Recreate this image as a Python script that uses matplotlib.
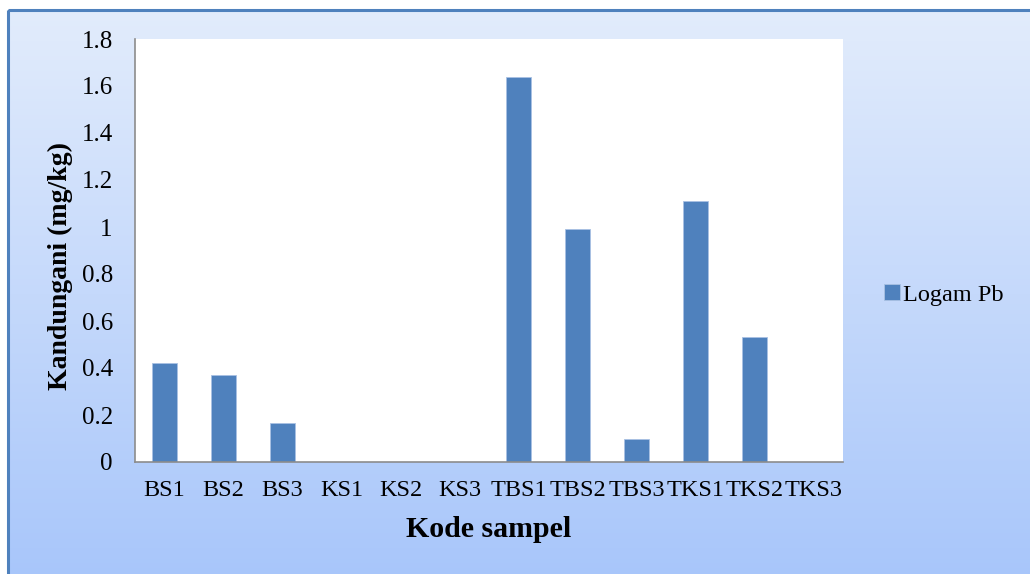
import matplotlib.pyplot as plt
import numpy as np
from matplotlib.colors import LinearSegmentedColormap
from matplotlib.patches import Rectangle

plt.rcParams['font.family'] = ['Liberation Serif', 'DejaVu Serif']

kode = ["BS1", "BS2", "BS3", "KS1", "KS2", "KS3",
        "TBS1", "TBS2", "TBS3", "TKS1", "TKS2", "TKS3"]
logam_pb = [0.42, 0.37, 0.165, 0, 0, 0,
            1.64, 0.99, 0.098, 1.11, 0.53, 0]

W, H = 1030, 574
fig = plt.figure(figsize=(W / 100, H / 100), dpi=100)
fig.patch.set_facecolor("white")

# gradient background of the chart area
bg = fig.add_axes([0, 0, 1, 1], zorder=0)
bg.axis("off")
cmap = LinearSegmentedColormap.from_list("bg", ["#E2ECFC", "#A8C6FA"])
grad = np.linspace(0, 1, 256).reshape(-1, 1)
bg.imshow(grad, cmap=cmap, aspect="auto", extent=(8, W + 5, H + 5, 10))
bg.add_patch(Rectangle((8, 10), W, H, fill=False, edgecolor="#4F81BD", lw=2.2))
bg.set_xlim(0, W)
bg.set_ylim(H, 0)

ax = fig.add_axes([135 / W, (H - 462) / H, 708 / W, 423 / H], zorder=1)
ax.set_facecolor("white")
x = np.arange(len(kode))
ax.bar(x, logam_pb, width=0.41, color="#4F81BD", edgecolor="#A9C1E3",
       linewidth=0.6, label="Logam Pb")

ax.set_xlim(-0.5, len(kode) - 0.5)
ax.set_ylim(0, 1.8)
ax.set_yticks(np.arange(0, 1.81, 0.2))
ax.set_yticklabels(["0", "0.2", "0.4", "0.6", "0.8", "1", "1.2", "1.4", "1.6", "1.8"])
ax.set_xticks(x)
ax.set_xticklabels(kode)
ax.tick_params(axis="both", length=0)
ax.tick_params(axis="y", pad=16, labelsize=18)
ax.tick_params(axis="x", pad=13, labelsize=17.5)

for s in ["top", "right"]:
    ax.spines[s].set_visible(False)
for s in ["left", "bottom"]:
    ax.spines[s].set_color("#8C8C8C")
    ax.spines[s].set_linewidth(1.2)

ax.set_xlabel("Kode sampel", fontsize=21.5, fontweight="bold")
ax.xaxis.set_label_coords(0.5, -(516 - 462) / 423)
ax.set_ylabel("Kandungani (mg/kg)", fontsize=20, fontweight="bold")
ax.yaxis.set_label_coords(-(135 - 73) / 708, (462 - 266) / 423)

fig.legend(loc="center left", bbox_to_anchor=(862 / W, 1 - 295 / H),
           frameon=False, fontsize=17.5, handlelength=0.65, handleheight=0.65,
           handletextpad=0.15)

fig.savefig("out.png", dpi=100)
